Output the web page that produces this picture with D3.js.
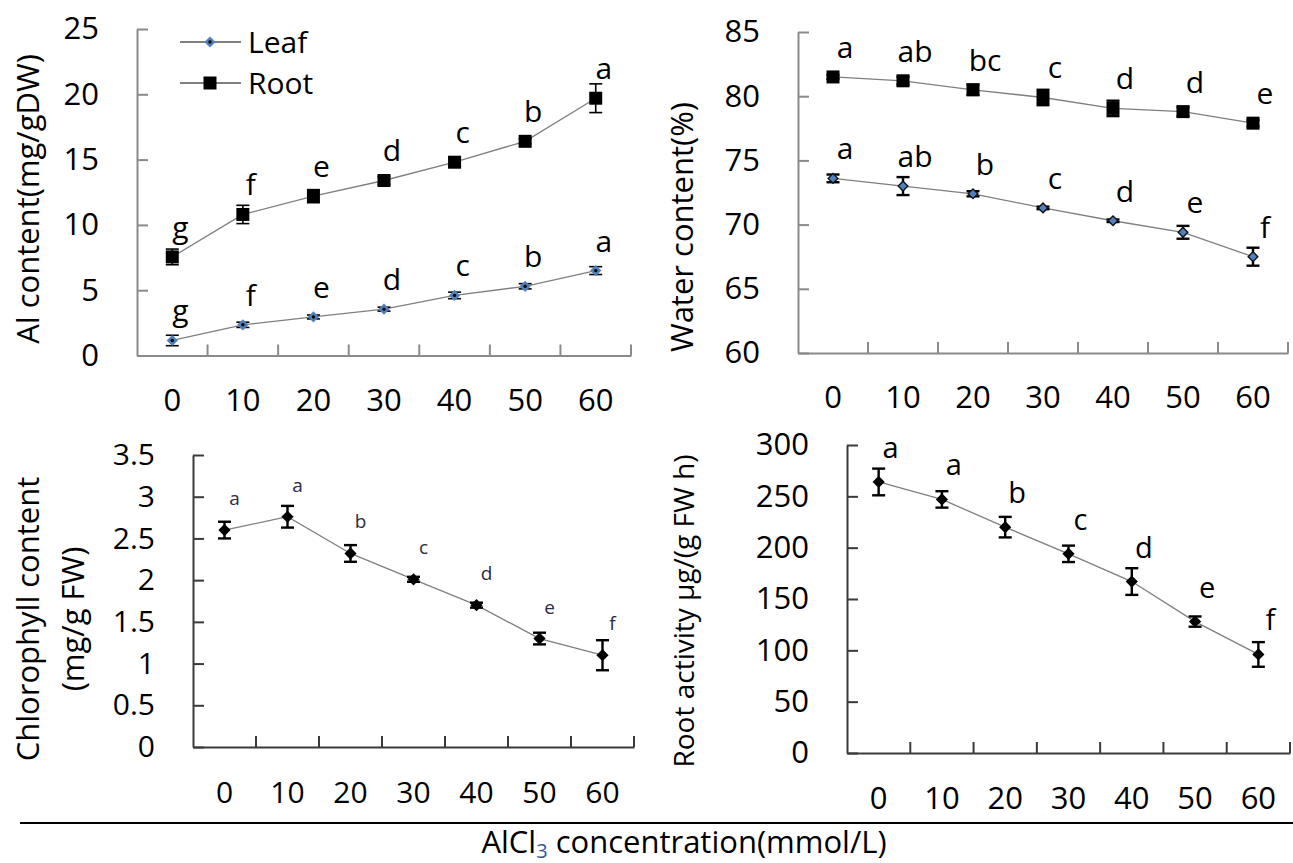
<!DOCTYPE html>
<html>
<head>
<meta charset="utf-8">
<script src="https://cdn.jsdelivr.net/npm/d3@7"></script>
<style>
  body { margin: 0; background: #fff; }
  svg { display: block; font-family: "Open Sans", "Noto Sans", sans-serif; }
</style>
</head>
<body>
<svg id="chart" width="1293" height="863"></svg>
<script>
// AlCl3 concentrations (mmol/L)
var conc = ["0", "10", "20", "30", "40", "50", "60"];

// Al content (mg/gDW)
var alLeaf = [1.15, 2.35, 2.95, 3.55, 4.6, 5.3, 6.5];
var alLeafErr = [0.4, 0.2, 0.15, 0.15, 0.25, 0.2, 0.3];
var alLeafLetters = ["g", "f", "e", "d", "c", "b", "a"];
var alRoot = [7.55, 10.8, 12.2, 13.4, 14.8, 16.4, 19.7];
var alRootErr = [0.6, 0.7, 0.5, 0.3, 0.3, 0.2, 1.1];
var alRootLetters = ["g", "f", "e", "d", "c", "b", "a"];

// Water content (%)
var wcRoot = [81.5, 81.2, 80.5, 79.9, 79.05, 78.8, 77.9];
var wcRootErr = [0.15, 0.3, 0.4, 0.6, 0.6, 0.35, 0.25];
var wcRootLetters = ["a", "ab", "bc", "c", "d", "d", "e"];
var wcLeaf = [73.6, 73.0, 72.4, 71.3, 70.3, 69.4, 67.5];
var wcLeafErr = [0.3, 0.7, 0.2, 0.1, 0.1, 0.5, 0.7];
var wcLeafLetters = ["a", "ab", "b", "c", "d", "e", "f"];

// Chlorophyll content (mg/g FW)
var chl = [2.6, 2.76, 2.32, 2.01, 1.7, 1.3, 1.1];
var chlErr = [0.1, 0.13, 0.1, 0.03, 0.03, 0.07, 0.18];
var chlLetters = ["a", "a", "b", "c", "d", "e", "f"];

// Root activity ug/(g FW h)
var ra = [264, 247, 220, 194, 167, 128, 96];
var raErr = [13, 8, 10, 8, 13, 5, 12];
var raLetters = ["a", "a", "b", "c", "d", "e", "f"];

var yTicks1 = [0, 5, 10, 15, 20, 25];
var yTicks2 = [60, 65, 70, 75, 80, 85];
var yTicks3 = [0, 0.5, 1, 1.5, 2, 2.5, 3, 3.5];
var yTicks4 = [0, 50, 100, 150, 200, 250, 300];

var svg = d3.select("#chart");

function marker(g, shape, x, y) {
  if (shape == "square") {
    g.append("rect")
      .attr("x", x - 6.5).attr("y", y - 6.5)
      .attr("width", 13).attr("height", 13)
      .attr("fill", "#000");
  } else if (shape == "leaf") {
    // blue diamond with dark centre
    g.append("path")
      .attr("d", d3.symbol(d3.symbolDiamond2, 80)())
      .attr("transform", "translate(" + x + "," + y + ")")
      .attr("fill", "#4f81bd");
    g.append("circle").attr("cx", x).attr("cy", y).attr("r", 1.7).attr("fill", "#000");
  } else if (shape == "leaf2") {
    g.append("path")
      .attr("d", d3.symbol(d3.symbolDiamond2, 60)())
      .attr("transform", "translate(" + x + "," + y + ")")
      .attr("fill", "#4f81bd").attr("stroke", "#111").attr("stroke-width", 1.4);
  } else {
    g.append("path")
      .attr("d", d3.symbol(d3.symbolDiamond2, 95)())
      .attr("transform", "translate(" + x + "," + y + ")")
      .attr("fill", "#000");
  }
}

function drawPanel(cfg) {
  var g = svg.append("g");
  var x = d3.scaleBand().domain(conc).range([cfg.left, cfg.right]).padding(0);
  var y = d3.scaleLinear().domain(cfg.domain).range([cfg.bottom, cfg.top]);

  // y axis, ticks pointing inwards
  var ya = g.append("g")
    .attr("transform", "translate(" + cfg.left + ",0)")
    .call(d3.axisLeft(y).tickValues(cfg.yTicks).tickFormat(function(d) { return String(d); })
      .tickSizeInner(-11).tickSizeOuter(0).tickPadding(38));
  // x axis, labels centred on categories
  var xa = g.append("g")
    .attr("transform", "translate(0," + cfg.bottom + ")")
    .call(d3.axisBottom(x).tickSize(0).tickPadding(0));
  xa.selectAll("text").attr("y", cfg.xLabelDy).attr("dy", null);
  // boundary ticks between categories
  xa.selectAll(".bound").data(conc).enter().append("line")
    .attr("x1", function(d) { return x(d) + x.bandwidth(); })
    .attr("x2", function(d) { return x(d) + x.bandwidth(); })
    .attr("y1", 0).attr("y2", -11)
    .attr("stroke", cfg.axisColor).attr("stroke-width", 2);

  [ya, xa].forEach(function(a) {
    a.select(".domain").attr("stroke", cfg.axisColor).attr("stroke-width", 2);
    a.selectAll(".tick line").attr("stroke", cfg.axisColor).attr("stroke-width", 2);
    a.selectAll("text").attr("fill", "#000").attr("font-size", cfg.tickFont)
      .attr("font-family", "'Open Sans', 'Noto Sans', sans-serif");
  });

  // y title
  cfg.title.forEach(function(t, i) {
    g.append("text")
      .attr("transform", "translate(" + cfg.titleX[i] + "," + cfg.titleY + ") rotate(-90)")
      .attr("text-anchor", "middle")
      .attr("font-size", cfg.titleFont)
      .attr("fill", "#000")
      .text(t);
  });

  var line = d3.line()
    .x(function(d, i) { return x(conc[i]) + x.bandwidth() / 2; })
    .y(function(d) { return y(d); });

  cfg.series.forEach(function(s) {
    g.append("path")
      .attr("d", line(s.values))
      .attr("fill", "none").attr("stroke", "#7f7f7f").attr("stroke-width", 1.3);

    s.values.forEach(function(v, i) {
      var cx = x(conc[i]) + x.bandwidth() / 2;
      var y0 = y(v - s.err[i]), y1 = y(v + s.err[i]);
      g.append("line").attr("x1", cx).attr("x2", cx).attr("y1", y0).attr("y2", y1)
        .attr("stroke", "#000").attr("stroke-width", cfg.errWidth);
      [y0, y1].forEach(function(yy) {
        g.append("line").attr("x1", cx - 6.5).attr("x2", cx + 6.5).attr("y1", yy).attr("y2", yy)
          .attr("stroke", "#000").attr("stroke-width", cfg.errWidth);
      });
      marker(g, s.shape, cx, y(v));
      g.append("text")
        .attr("x", cx + cfg.letterDx)
        .attr("y", y(v) - cfg.letterDy)
        .attr("text-anchor", "middle")
        .attr("font-size", cfg.letterFont)
        .attr("fill", cfg.letterColor)
        .text(s.letters[i]);
    });
  });
  return { x: x, y: y, g: g };
}

var p1 = drawPanel({
  left: 137, right: 631, top: 29, bottom: 355.5, domain: [0, 25], yTicks: yTicks1,
  axisColor: "#8a8a8a", tickFont: 31, xLabelDy: 55,
  title: ["Al content(mg/gDW)"], titleX: [39], titleY: 199, titleFont: 31,
  errWidth: 1.6, letterDx: 8, letterDy: 19, letterFont: 30, letterColor: "#000",
  series: [
    { values: alRoot, err: alRootErr, letters: alRootLetters, shape: "square" },
    { values: alLeaf, err: alLeafErr, letters: alLeafLetters, shape: "leaf" }
  ]
});

drawPanel({
  left: 798, right: 1288, top: 32, bottom: 353, domain: [60, 85], yTicks: yTicks2,
  axisColor: "#8a8a8a", tickFont: 31, xLabelDy: 55,
  title: ["Water content(%)"], titleX: [693], titleY: 227, titleFont: 31,
  errWidth: 2.4, letterDx: 12, letterDy: 19, letterFont: 30, letterColor: "#000",
  series: [
    { values: wcRoot, err: wcRootErr, letters: wcRootLetters, shape: "square" },
    { values: wcLeaf, err: wcLeafErr, letters: wcLeafLetters, shape: "leaf2" }
  ]
});

drawPanel({
  left: 193, right: 634, top: 455, bottom: 747, domain: [0, 3.5], yTicks: yTicks3,
  axisColor: "#3a3a3a", tickFont: 30, xLabelDy: 56,
  title: ["Chlorophyll content", "(mg/g FW)"], titleX: [39, 84], titleY: 619, titleFont: 31,
  errWidth: 2.4, letterDx: 10, letterDy: 25, letterFont: 19, letterColor: "#2b2b45",
  series: [
    { values: chl, err: chlErr, letters: chlLetters, shape: "diamond" }
  ]
});

drawPanel({
  left: 847, right: 1290, top: 445, bottom: 753, domain: [0, 300], yTicks: yTicks4,
  axisColor: "#3a3a3a", tickFont: 31, xLabelDy: 56,
  title: ["Root activity \u00b5g/(g FW h)"], titleX: [694], titleY: 611, titleFont: 28,
  errWidth: 2.4, letterDx: 12, letterDy: 24, letterFont: 29, letterColor: "#000",
  series: [
    { values: ra, err: raErr, letters: raLetters, shape: "diamond" }
  ]
});

// legend for the Al panel
var legend = p1.g.append("g");
[["Leaf", "leaf", 42], ["Root", "square", 83]].forEach(function(d) {
  legend.append("line").attr("x1", 180).attr("x2", 241).attr("y1", d[2]).attr("y2", d[2])
    .attr("stroke", "#555").attr("stroke-width", 1.3);
  marker(legend, d[1], 210, d[2]);
  legend.append("text").attr("x", 248).attr("y", d[2] + 11)
    .attr("font-size", 30).attr("fill", "#000").text(d[0]);
});

// shared x title
svg.append("line").attr("x1", 20).attr("x2", 1293).attr("y1", 823).attr("y2", 823)
  .attr("stroke", "#000").attr("stroke-width", 2);
var xt = svg.append("text").attr("x", 684).attr("y", 853).attr("text-anchor", "middle")
  .attr("font-size", 31).attr("fill", "#000");
xt.append("tspan").text("AlCl");
xt.append("tspan").attr("dy", 5).attr("font-size", 20).attr("fill", "#2f5597").text("3");
xt.append("tspan").attr("dy", -5).text(" concentration(mmol/L)");
</script>
</body>
</html>
